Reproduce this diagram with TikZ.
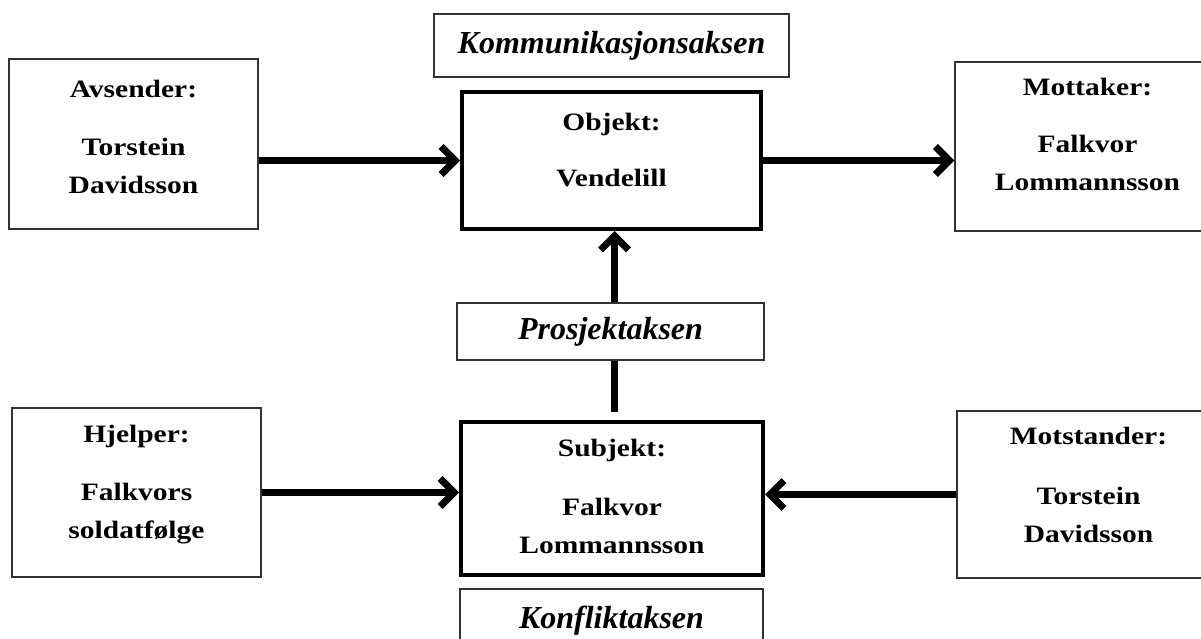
\documentclass[tikz,border=0pt]{standalone}
\usepackage{fontspec}
\setmainfont{Liberation Serif}
\newfontfamily\actantfont[FakeStretch=1.18]{Liberation Serif}
\usetikzlibrary{arrows.meta}

\begin{document}
\begin{tikzpicture}[x=1pt,y=-1pt,
  thinbox/.style={draw=black!80, line width=1.4pt, inner sep=0pt, fill=white},
  thickbox/.style={draw=black, line width=4pt, inner sep=0pt, fill=white},
  actanttext/.style={anchor=north, align=center, inner sep=0pt,
    font=\actantfont\bfseries\fontsize{25}{38}\selectfont},
  axislabel/.style={thinbox, font=\bfseries\itshape\fontsize{32}{38}\selectfont},
  axisarrow/.style={line width=7pt, -{Straight Barb[length=14pt,width=28pt]}},
  axisline/.style={line width=7pt}
]
\useasboundingbox (0,0) rectangle (1201,639);
\clip (0,0) rectangle (1201,639);

% actant boxes
\node[thinbox, minimum width=249pt, minimum height=170pt] (avs) at (133.5,144) {};
\node[thickbox, minimum width=299pt, minimum height=137pt] (obj) at (611.5,160.5) {};
\node[thinbox, minimum width=265pt, minimum height=169pt] (mot) at (1087.5,146.5) {};
\node[thinbox, minimum width=249pt, minimum height=169pt] (hj) at (136.5,492.5) {};
\node[thickbox, minimum width=302pt, minimum height=153pt] (subj) at (612,498.5) {};
\node[thinbox, minimum width=263pt, minimum height=167pt] (motst) at (1088.5,494.5) {};

% axis labels
\node[axislabel, minimum width=355pt, minimum height=63pt] (komm) at (611.5,45.5) {Kommunikasjonsaksen};
\node[axislabel, minimum width=307pt, minimum height=57pt] (prosj) at (610.5,331.5) {Prosjektaksen};
\node[axislabel, minimum width=303pt, minimum height=63pt] (konf) at (611.5,620.5) {Konfliktaksen};

% texts of the actants
\node[actanttext] (avs-txt) at ([yshift=-22pt]avs.north) {Avsender:\\[20pt]Torstein\\Davidsson};
\node[actanttext] (obj-txt) at ([yshift=-23pt]obj.north) {Objekt:\\[18pt]Vendelill};
\node[actanttext] (mot-txt) at ([yshift=-17pt]mot.north) {Mottaker:\\[19pt]Falkvor\\Lommannsson};
\node[actanttext] (hj-txt) at ([yshift=-18pt]hj.north) {Hjelper:\\[20pt]Falkvors\\soldatfølge};
\node[actanttext] (subj-txt) at ([yshift=-19pt]subj.north) {Subjekt:\\[21pt]Falkvor\\Lommannsson};
\node[actanttext] (motst-txt) at ([yshift=-17pt]motst.north) {Motstander:\\[22pt]Torstein\\Davidsson};

% communication axis
\draw[axisarrow] (avs.east |- obj.west) -- (obj.west);
\draw[axisarrow] (obj.east) -- (mot.west |- obj.east);
% project axis
\draw[axisarrow] ([xshift=4pt]prosj.north) -- ([xshift=4pt]prosj.north |- obj.south);
\draw[axisline, shorten >=8pt] ([xshift=4pt]prosj.south) -- ([xshift=4pt]prosj.south |- subj.north);
% conflict axis
\draw[axisarrow] (hj.east) -- (subj.west |- hj.east);
\draw[axisarrow] (motst.west) -- (subj.east |- motst.west);
\end{tikzpicture}
\end{document}
